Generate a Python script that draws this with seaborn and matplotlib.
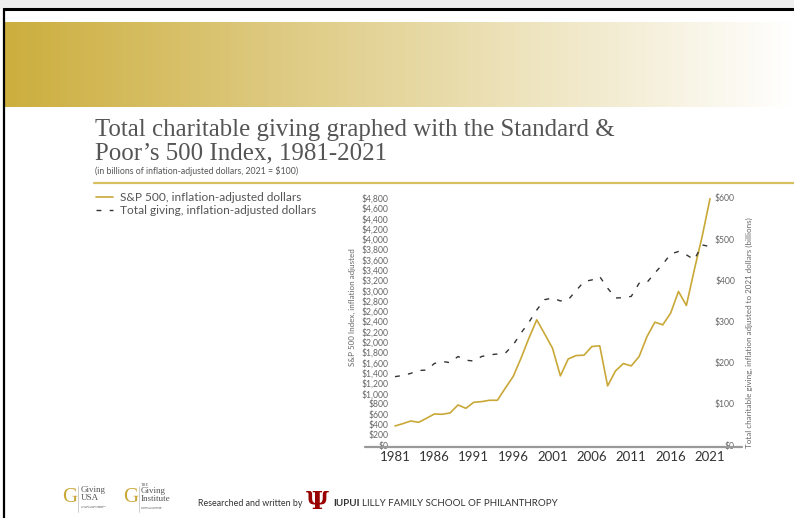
import numpy as np
import pandas as pd
import matplotlib.pyplot as plt
import seaborn as sns
from matplotlib.lines import Line2D
from matplotlib.patches import Rectangle

# values
years = list(range(1981, 2022))
sp500 = [370, 415, 467, 441, 519, 603, 597, 623, 778, 713,
         830, 843, 869, 869, 1103, 1330, 1686, 2075, 2432, 2160,
         1881, 1343, 1673, 1738, 1745, 1914, 1927, 1148, 1440, 1583,
         1537, 1719, 2108, 2387, 2335, 2562, 2984, 2711, 3400, 4050, 4787]
giving = [166, 169, 174, 181, 182, 198, 203, 200, 215, 206,
          204, 215, 219, 221, 223, 243, 272, 298, 328, 353,
          357, 350, 353, 375, 397, 401, 409, 381, 357, 358,
          361, 393, 395, 418, 439, 464, 470, 462, 450, 486, 482]
x_ticks = [1981, 1986, 1991, 1996, 2001, 2006, 2011, 2016, 2021]
left_ticks = list(range(0, 4801, 200))
right_ticks = list(range(0, 601, 100))

df = pd.DataFrame({'year': years, 'sp500': sp500, 'giving': giving})

GOLD = '#C9A838'
GREY = '#555555'
LIGHT = '#666666'
W, H = 794, 518


def fx(x):
    return x / W


def fy(y):
    return 1 - y / H


sns.set_style('white')
plt.rcParams['font.family'] = ['Lato', 'DejaVu Sans']

fig = plt.figure(figsize=(W / 100, H / 100), dpi=100)

# page frame
fig.add_artist(Rectangle((0, fy(8)), 1, 8 / H, transform=fig.transFigure,
                         color='#efefef', zorder=0))
fig.add_artist(Line2D([fx(4), 1], [fy(9), fy(9)], transform=fig.transFigure,
                      color='black', lw=2.2))
fig.add_artist(Line2D([fx(4), fx(4)], [fy(9), 0], transform=fig.transFigure,
                      color='black', lw=1.6))

# gold banner with gradient
ban = fig.add_axes([fx(5), fy(107), 1 - fx(5), (107 - 22) / H])
grad = np.linspace(0, 1, 256).reshape(1, -1)
c0 = np.array([204, 174, 62]) / 255
c1 = np.array([255, 255, 255]) / 255
img = c0[None, None, :] * (1 - grad[..., None]) + c1[None, None, :] * grad[..., None]
ban.imshow(img, aspect='auto', extent=[0, 1, 0, 1])
ban.axis('off')

# title block
fig.text(fx(95), fy(136), 'Total charitable giving graphed with the Standard &',
         family='Liberation Serif', fontsize=17.9, color=GREY, va='baseline')
fig.text(fx(95), fy(159), 'Poor\u2019s 500 Index, 1981-2021',
         family='Liberation Serif', fontsize=17.9, color=GREY, va='baseline')
fig.text(fx(95), fy(171), '(in billions of inflation-adjusted dollars, 2021 = $100)',
         fontsize=6.3, color=GREY, va='center')
fig.add_artist(Line2D([fx(94), 1], [fy(183), fy(183)], transform=fig.transFigure,
                      color='#D8C060', lw=1.6))

# main chart
ax = fig.add_axes([fx(395), fy(445), fx(710) - fx(395), (445 - 198) / H])
ax2 = ax.twinx()

sns.lineplot(data=df, x='year', y='sp500', ax=ax, color=GOLD, lw=1.2,
             label='S&P 500, inflation-adjusted dollars', legend=False)
sns.lineplot(data=df, x='year', y='giving', ax=ax2, color='#333333', lw=1.0,
             linestyle=(0, (3.5, 6)), label='Total giving, inflation-adjusted dollars',
             legend=False)

ax.set_xlim(1981, 2021)
ax.set_ylim(0, 4800)
ax2.set_ylim(0, 600)
ax.set_xticks(x_ticks)
ax.set_xticklabels([str(y) for y in x_ticks], fontsize=9.5, color='#333333')
ax.set_yticks(left_ticks)
ax.set_yticklabels(['${:,}'.format(v) for v in left_ticks], fontsize=6.2, color=LIGHT)
ax2.set_yticks(right_ticks)
ax2.set_yticklabels(['${:,}'.format(v) for v in right_ticks], fontsize=6.2,
                    color=LIGHT, ha='right')
ax.tick_params(axis='x', length=0, pad=4)
ax.tick_params(axis='y', length=0, pad=5)
ax2.tick_params(axis='y', length=0, pad=18)
ax.set_xlabel('')
ax.set_ylabel('')
ax2.set_ylabel('')
for a in (ax, ax2):
    for s in a.spines.values():
        s.set_visible(False)
    a.patch.set_alpha(0)
    for line in a.get_lines():
        line.set_clip_on(False)

fig.add_artist(Line2D([fx(365), fx(742)], [fy(447), fy(447)],
                      transform=fig.transFigure, color='#999999', lw=1.6))

fig.text(fx(352), fy(307), 'S&P 500 Index, inflation adjusted', rotation=90,
         fontsize=5.8, color=LIGHT, ha='center', va='center')
fig.text(fx(749), fy(333),
         'Total charitable giving, inflation adjusted to 2021 dollars (billions)',
         rotation=90, fontsize=5.8, color=LIGHT, ha='center', va='center')

# legend
handles = ax.get_lines() + ax2.get_lines()
fig.legend(handles, [h.get_label() for h in handles], loc='upper left',
           bbox_to_anchor=(fx(96), fy(192)), bbox_transform=fig.transFigure,
           frameon=False, fontsize=8.6, labelcolor=GREY, handlelength=1.45,
           handletextpad=0.6, labelspacing=0.2, borderpad=0, borderaxespad=0)

# footer
fig.text(fx(62), fy(497), 'G', family='Liberation Serif', fontsize=15,
         color=GOLD, va='center')
fig.add_artist(Line2D([fx(78), fx(78)], [fy(486), fy(512)],
                      transform=fig.transFigure, color='#bbbbbb', lw=0.5))
fig.text(fx(81), fy(490), 'Giving', family='Liberation Serif', fontsize=6.5,
         color=GREY, va='center')
fig.text(fx(81), fy(498), 'USA', family='Liberation Serif', fontsize=6.5,
         color=GREY, va='center')
fig.text(fx(81), fy(507), 'A public service initiative\nof The Giving Institute',
         fontsize=1.6, color=GREY, va='center')
fig.text(fx(123), fy(497), 'G', family='Liberation Serif', fontsize=15,
         color=GOLD, va='center')
fig.add_artist(Line2D([fx(139), fx(139)], [fy(486), fy(512)],
                      transform=fig.transFigure, color='#bbbbbb', lw=0.5))
fig.text(fx(141), fy(485), 'THE', family='Liberation Serif', fontsize=3,
         color=GREY, va='center')
fig.text(fx(141), fy(491), 'Giving', family='Liberation Serif', fontsize=6.5,
         color=GREY, va='center')
fig.text(fx(141), fy(499), 'Institute', family='Liberation Serif', fontsize=6.5,
         color=GREY, va='center')
fig.text(fx(141), fy(508), 'Counsel to nonprofits\nfor the greater good',
         fontsize=1.6, color=GREY, va='center')
fig.text(fx(198), fy(503), 'Researched and written by', fontsize=6.4,
         color='#333333', va='center')
fig.text(fx(317), fy(502), '\u03a8', family='DejaVu Serif', fontsize=18,
         fontweight='bold', color='#990000', ha='center', va='center')
fig.text(fx(333), fy(503), 'IUPUI', fontsize=7, fontweight='bold',
         color='#333333', va='center')
fig.text(fx(362), fy(503), 'LILLY FAMILY SCHOOL OF PHILANTHROPY', fontsize=7,
         color='#333333', va='center')

fig.savefig('out.png', dpi=100)
